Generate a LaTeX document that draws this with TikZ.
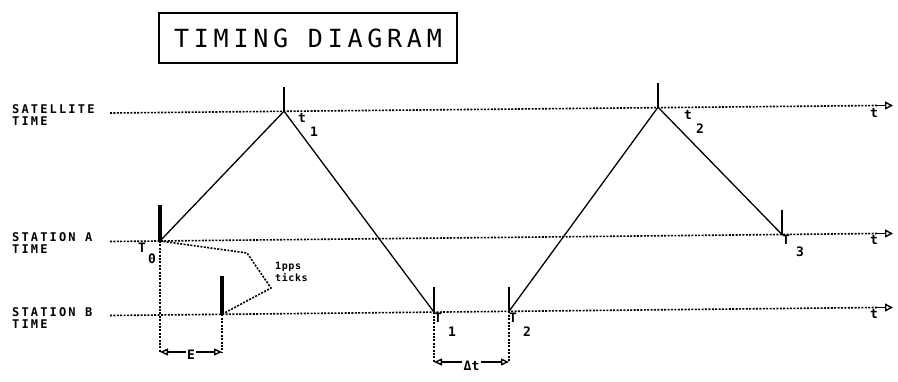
\documentclass[tikz,border=0pt]{standalone}
\usepackage{fontspec}
\usetikzlibrary{arrows.meta}
\newfontfamily\ttlfam[LetterSpace=19]{DejaVu Sans Mono}
\newfontfamily\lblfam[LetterSpace=18]{DejaVu Sans Mono}
\newfontfamily\smfam[LetterSpace=6]{DejaVu Sans Mono}
\newfontfamily\subfam{DejaVu Sans Mono}
\begin{document}
\begin{tikzpicture}[x=1pt,y=-1pt,
  axis/.style={line width=1.6pt, dash pattern=on 2pt off 1.4pt},
  sig/.style={line width=1.3pt},
  tickmark/.style={line width=1.3pt},
  thicktick/.style={line width=3.2pt},
  tip/.style={line width=1.5pt, -{Triangle[open,length=8pt,width=8pt,line width=1.4pt]}},
  dimarrow/.style={line width=1.5pt, {Triangle[open,length=8pt,width=7pt,line width=1.4pt]}-{Triangle[open,length=8pt,width=7pt,line width=1.4pt]}},
  lbl/.style={font=\lblfam\bfseries\fontsize{12}{12}\selectfont, inner sep=0pt, align=left, anchor=north west},
  sm/.style={font=\subfam\bfseries\fontsize{13}{13}\selectfont, inner sep=0pt},
  pps/.style={font=\smfam\bfseries\fontsize{10}{12}\selectfont, inner sep=0pt, align=left, anchor=north west},
  titlebox/.style={draw, line width=1.6pt, minimum width=298pt, minimum height=50pt, inner sep=0pt,
    font=\ttlfam\fontsize{25}{25}\selectfont}
]
\useasboundingbox (0,0) rectangle (898,381);

% title
\node[titlebox] (title) at (308,38) {TIMING DIAGRAM};

% row labels
\node[lbl] (satlbl) at (12,104) {SATELLITE\\TIME};
\node[lbl] (alb) at (12,232) {STATION A\\TIME};
\node[lbl] (blb) at (12,307) {STATION B\\TIME};

% axis coordinates
\coordinate (s0) at (110,113);   \coordinate (s1) at (877,105.5); \coordinate (s2) at (893,105.5);
\coordinate (a0) at (110,241.5); \coordinate (a1) at (877,233.5); \coordinate (a2) at (893,233.5);
\coordinate (b0) at (110,315.5); \coordinate (b1) at (877,307.5); \coordinate (b2) at (893,307.5);

% event points
\coordinate (p1) at (284,111.2); \coordinate (p1top) at (284,87);
\coordinate (p2) at (658,107.2); \coordinate (p2top) at (658,83);
\coordinate (A0) at (160,241);   \coordinate (A0top) at (160,205);
\coordinate (B0) at (222,314.3); \coordinate (B0top) at (222,276);
\coordinate (B1) at (434,312.1); \coordinate (B1top) at (434,287);
\coordinate (B2) at (509,311.3); \coordinate (B2top) at (509,287);
\coordinate (A3) at (782,234.5); \coordinate (A3top) at (782,210);
\coordinate (e0) at (160,352);   \coordinate (e1) at (222,352);
\coordinate (d0) at (434,362);   \coordinate (d1) at (509,362);
\coordinate (lk) at (247,253);   \coordinate (lj) at (271,288);

% axes
\draw[axis] (s0) -- (s1); \draw[tip] (s1) -- (s2);
\draw[axis] (a0) -- (a1); \draw[tip] (a1) -- (a2);
\draw[axis] (b0) -- (b1); \draw[tip] (b1) -- (b2);
\node[sm] (ts) at (874,113) {t};
\node[sm] (ta) at (874,240) {t};
\node[sm] (tb) at (874,314) {t};

% signal paths
\draw[sig] (A0) -- (p1) -- (B1);
\draw[sig] (B2) -- (p2) -- (A3);

% ticks
\draw[tickmark] (p1) -- (p1top);
\draw[tickmark] (p2) -- (p2top);
\draw[tickmark] (B1) -- (B1top);
\draw[tickmark] (B2) -- (B2top);
\draw[tickmark] (A3) -- (A3top);
\draw[thicktick] (A0) -- (A0top);
\draw[thicktick] (B0) -- (B0top);

% dotted extensions
\draw[axis] (A0) -- (e0);
\draw[axis] (B0) -- (e1);
\draw[axis] (B1) -- (d0);
\draw[axis] (B2) -- (d1);

% dimension arrows
\draw[dimarrow] (e0) -- node[fill=white, inner sep=1.5pt, yshift=-3pt, font=\subfam\bfseries\fontsize{13}{13}\selectfont] (elbl) {E} (e1);
\draw[dimarrow] (d0) -- node[fill=white, inner sep=1.5pt, yshift=-4pt, font=\subfam\bfseries\fontsize{13}{13}\selectfont] (dlbl) {Δt} (d1);

% 1pps leaders
\draw[axis] (A0) -- (lk) -- (lj) -- (B0);
\node[pps] (ppslbl) at (275,262) {1pps\\ticks};

% event labels
\node[sm] (t1a) at (302,118) {t};  \node[sm] (t1b) at (314,132) {1};
\node[sm] (T0a) at (142,248) {T};  \node[sm] (T0b) at (152,259) {0};
\node[sm] (T1a) at (438,318) {T};  \node[sm] (T1b) at (452,332) {1};
\node[sm] (T2a) at (513,318) {T};  \node[sm] (T2b) at (527,332) {2};
\node[sm] (t2a) at (688,115) {t};  \node[sm] (t2b) at (700,129) {2};
\node[sm] (T3a) at (786,240) {T};  \node[sm] (T3b) at (800,252) {3};
\end{tikzpicture}
\end{document}
